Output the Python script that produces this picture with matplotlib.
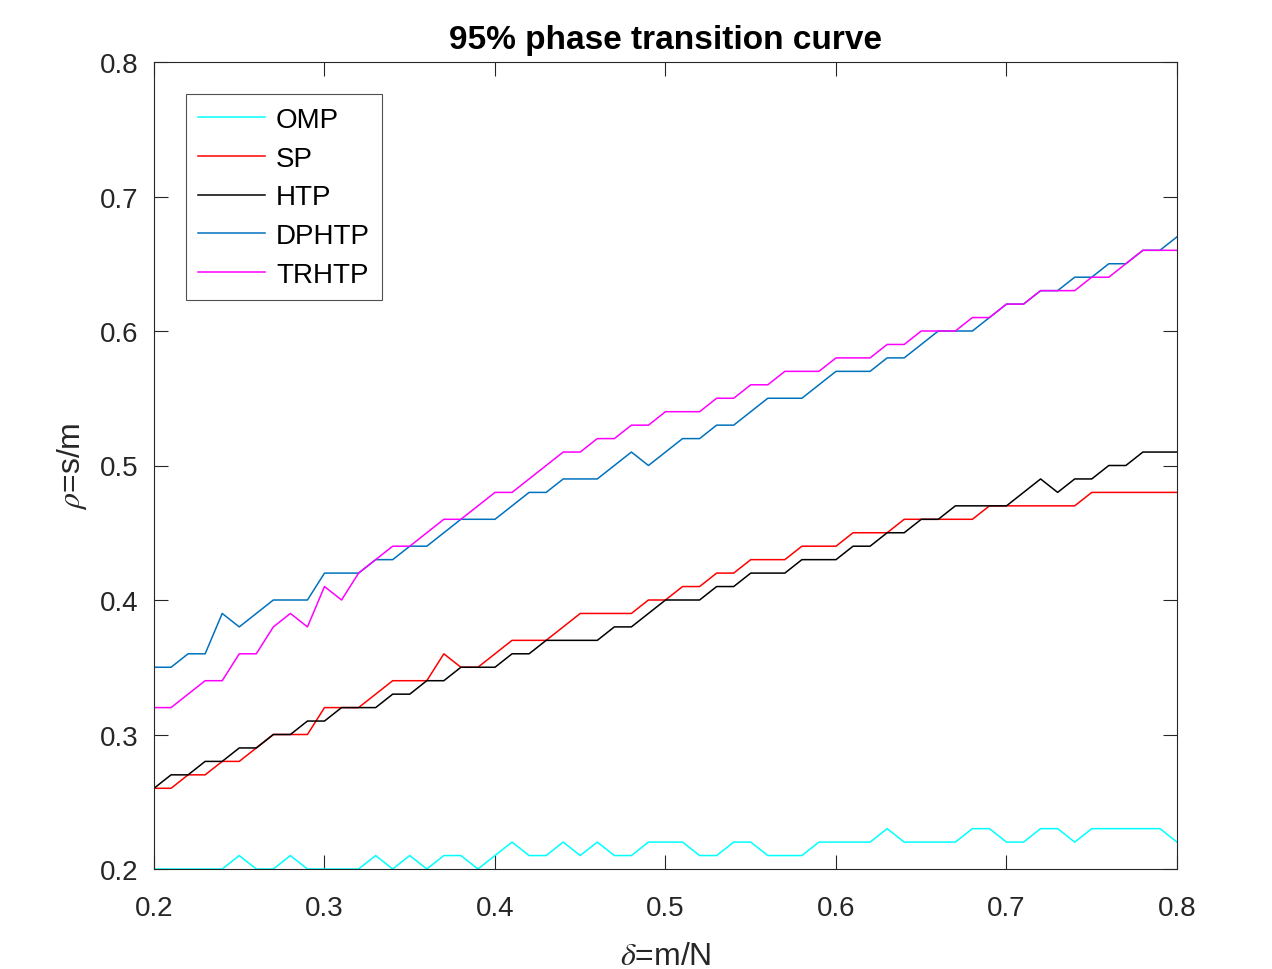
import matplotlib
matplotlib.use('Agg')
import matplotlib.pyplot as plt
import numpy as np

# delta = m/N, шаг 0.01
delta = np.round(np.arange(0.20, 0.8001, 0.01), 2)

omp = [0.20, 0.20, 0.20, 0.20, 0.20, 0.21, 0.20, 0.20, 0.21, 0.20,
       0.20, 0.20, 0.20, 0.21, 0.20, 0.21, 0.20, 0.21, 0.21, 0.20,
       0.21, 0.22, 0.21, 0.21, 0.22, 0.21, 0.22, 0.21, 0.21, 0.22,
       0.22, 0.22, 0.21, 0.21, 0.22, 0.22, 0.21, 0.21, 0.21, 0.22,
       0.22, 0.22, 0.22, 0.23, 0.22, 0.22, 0.22, 0.22, 0.23, 0.23,
       0.22, 0.22, 0.23, 0.23, 0.22, 0.23, 0.23, 0.23, 0.23, 0.23, 0.22]

sp = [0.26, 0.26, 0.27, 0.27, 0.28, 0.28, 0.29, 0.30, 0.30, 0.30,
      0.32, 0.32, 0.32, 0.33, 0.34, 0.34, 0.34, 0.36, 0.35, 0.35,
      0.36, 0.37, 0.37, 0.37, 0.38, 0.39, 0.39, 0.39, 0.39, 0.40,
      0.40, 0.41, 0.41, 0.42, 0.42, 0.43, 0.43, 0.43, 0.44, 0.44,
      0.44, 0.45, 0.45, 0.45, 0.46, 0.46, 0.46, 0.46, 0.46, 0.47,
      0.47, 0.47, 0.47, 0.47, 0.47, 0.48, 0.48, 0.48, 0.48, 0.48, 0.48]

htp = [0.26, 0.27, 0.27, 0.28, 0.28, 0.29, 0.29, 0.30, 0.30, 0.31,
       0.31, 0.32, 0.32, 0.32, 0.33, 0.33, 0.34, 0.34, 0.35, 0.35,
       0.35, 0.36, 0.36, 0.37, 0.37, 0.37, 0.37, 0.38, 0.38, 0.39,
       0.40, 0.40, 0.40, 0.41, 0.41, 0.42, 0.42, 0.42, 0.43, 0.43,
       0.43, 0.44, 0.44, 0.45, 0.45, 0.46, 0.46, 0.47, 0.47, 0.47,
       0.47, 0.48, 0.49, 0.48, 0.49, 0.49, 0.50, 0.50, 0.51, 0.51, 0.51]

dphtp = [0.35, 0.35, 0.36, 0.36, 0.39, 0.38, 0.39, 0.40, 0.40, 0.40,
         0.42, 0.42, 0.42, 0.43, 0.43, 0.44, 0.44, 0.45, 0.46, 0.46,
         0.46, 0.47, 0.48, 0.48, 0.49, 0.49, 0.49, 0.50, 0.51, 0.50,
         0.51, 0.52, 0.52, 0.53, 0.53, 0.54, 0.55, 0.55, 0.55, 0.56,
         0.57, 0.57, 0.57, 0.58, 0.58, 0.59, 0.60, 0.60, 0.60, 0.61,
         0.62, 0.62, 0.63, 0.63, 0.64, 0.64, 0.65, 0.65, 0.66, 0.66, 0.67]

trhtp = [0.32, 0.32, 0.33, 0.34, 0.34, 0.36, 0.36, 0.38, 0.39, 0.38,
         0.41, 0.40, 0.42, 0.43, 0.44, 0.44, 0.45, 0.46, 0.46, 0.47,
         0.48, 0.48, 0.49, 0.50, 0.51, 0.51, 0.52, 0.52, 0.53, 0.53,
         0.54, 0.54, 0.54, 0.55, 0.55, 0.56, 0.56, 0.57, 0.57, 0.57,
         0.58, 0.58, 0.58, 0.59, 0.59, 0.60, 0.60, 0.60, 0.61, 0.61,
         0.62, 0.62, 0.63, 0.63, 0.63, 0.64, 0.64, 0.65, 0.66, 0.66, 0.66]

labels = ['OMP', 'SP', 'HTP', 'DPHTP', 'TRHTP']
colors = ['#00FFFF', '#FF0000', '#000000', '#0072BD', '#FF00FF']
ticks = [0.2, 0.3, 0.4, 0.5, 0.6, 0.7, 0.8]
tick_labels = ['0.2', '0.3', '0.4', '0.5', '0.6', '0.7', '0.8']

plt.rcParams['font.family'] = ['Liberation Sans', 'DejaVu Sans']
plt.rcParams['mathtext.fontset'] = 'stix'

fig = plt.figure(figsize=(12.72, 9.70), dpi=100)
ax = fig.add_axes([154 / 1272, 1 - 870 / 970, (1177 - 154) / 1272, (870 - 63) / 970])

for series, name, col in zip([omp, sp, htp, dphtp, trhtp], labels, colors):
    ax.plot(delta, series, color=col, linewidth=1.1, label=name)

ax.set_xlim(0.2, 0.8)
ax.set_ylim(0.2, 0.8)
ax.set_xticks(ticks)
ax.set_yticks(ticks)
ax.set_xticklabels(tick_labels)
ax.set_yticklabels(tick_labels)
ax.tick_params(direction='in', length=10, width=0.8, colors='#262626',
               labelsize=20, top=True, right=True)
ax.tick_params(axis='x', pad=19)
ax.tick_params(axis='y', pad=11)
for sp_ in ax.spines.values():
    sp_.set_color('#262626')
    sp_.set_linewidth(0.8)

ax.set_title('95% phase transition curve', fontsize=24, fontweight='bold', pad=10)
ax.set_xlabel(r'$\delta$=m/N', fontsize=23, color='#262626', labelpad=14)
ax.set_ylabel(r'$\rho$=s/m', fontsize=23, color='#262626', labelpad=8)

leg = ax.legend(loc='upper left', bbox_to_anchor=(0.031, 0.96), borderaxespad=0,
                fontsize=20, frameon=True, fancybox=False, borderpad=0.45,
                labelspacing=0.46, handlelength=2.4, handletextpad=0.4)
leg.get_frame().set_edgecolor('#262626')
leg.get_frame().set_linewidth(0.8)

plt.savefig('out.png', dpi=100)
